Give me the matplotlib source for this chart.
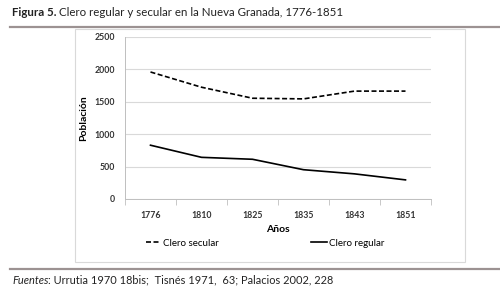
import matplotlib.pyplot as plt
from matplotlib.lines import Line2D
from matplotlib.patches import Rectangle

# datos
anios = ['1776', '1810', '1825', '1835', '1843', '1851']
clero_secular = [1960, 1725, 1555, 1545, 1665, 1665]
clero_regular = [830, 643, 613, 452, 388, 295]
yticks = [0, 500, 1000, 1500, 2000, 2500]

W, H = 500, 298
fig = plt.figure(figsize=(W / 100, H / 100), dpi=100)
fig.patch.set_facecolor('white')


def px(x, y):
    # pixel coords (top-left origin) -> figure fraction
    return x / W, 1 - y / H


def two_part(x, y, first, rest, first_kw, size):
    # first part with its own style, rest placed right after it
    t = fig.text(*px(x, y), first, fontsize=size, family='Lato', va='center', ha='left',
                 color='#222222', **first_kw)
    fig.canvas.draw()
    bb = t.get_window_extent()
    fig.text(bb.x1 / W, 1 - y / H, rest, fontsize=size, family='Lato', va='center',
             ha='left', color='#222222')


two_part(12, 13, 'Figura 5.', ' Clero regular y secular en la Nueva Granada, 1776-1851',
         {'fontweight': 'bold'}, 8.3)
two_part(12, 280, 'Fuentes', ': Urrutia 1970 18bis;  Tisnés 1971,  63; Palacios 2002, 228',
         {'style': 'italic'}, 7.9)

fig.add_artist(Line2D([10 / W, 1], [1 - 27 / H] * 2, color='#9c9292', lw=1.6))
fig.add_artist(Line2D([10 / W, 1], [1 - 269 / H] * 2, color='#9c9292', lw=1.6))

# chart box
fig.add_artist(Rectangle((75 / W, 1 - 262 / H), 390 / W, 233 / H, fill=False,
                         ec='#d9d9d9', lw=0.8))

ax = fig.add_axes([125 / W, 1 - 199 / H, 306 / W, 162 / H])
x = list(range(len(anios)))
ax.plot(x, clero_secular, color='black', lw=1.2, ls=(0, (3, 1.5)), label='Clero secular')
ax.plot(x, clero_regular, color='black', lw=1.2, label='Clero regular')
ax.set_xlim(-0.5, len(anios) - 0.5)
ax.set_ylim(0, 2500)
ax.set_yticks(yticks)
ax.set_yticklabels([str(v) for v in yticks], fontsize=6.3, fontweight='bold',
                   family='Lato', color='#333333')
ax.set_xticks(x)
ax.set_xticklabels(anios, fontsize=6.3, fontweight='bold', family='Lato', color='#333333')
ax.set_xticks([i - 0.5 for i in range(len(anios) + 1)], minor=True)
ax.tick_params(axis='x', which='major', length=0, pad=9)
ax.tick_params(axis='x', which='minor', length=4, color='#bfbfbf', width=0.6)
ax.tick_params(axis='y', length=0, pad=7)
ax.grid(axis='y', color='#d9d9d9', lw=0.8)
ax.set_axisbelow(True)
for s in ['top', 'right']:
    ax.spines[s].set_visible(False)
for s in ['left', 'bottom']:
    ax.spines[s].set_color('#bfbfbf')
    ax.spines[s].set_linewidth(0.7)
ax.set_xlabel('Años', fontsize=7.5, fontweight='bold', family='Lato', labelpad=3)
ax.set_ylabel('Población', fontsize=7.5, fontweight='bold', family='Lato')
ax.yaxis.set_label_coords(-37 / 306, 0.5)

fig.legend(loc='center', bbox_to_anchor=(0.53, 1 - 243 / H), ncol=2, frameon=False,
           prop={'family': 'Lato', 'size': 7}, handlelength=1.6, handletextpad=0.2,
           columnspacing=9.5)

fig.savefig('out.png', dpi=100)
